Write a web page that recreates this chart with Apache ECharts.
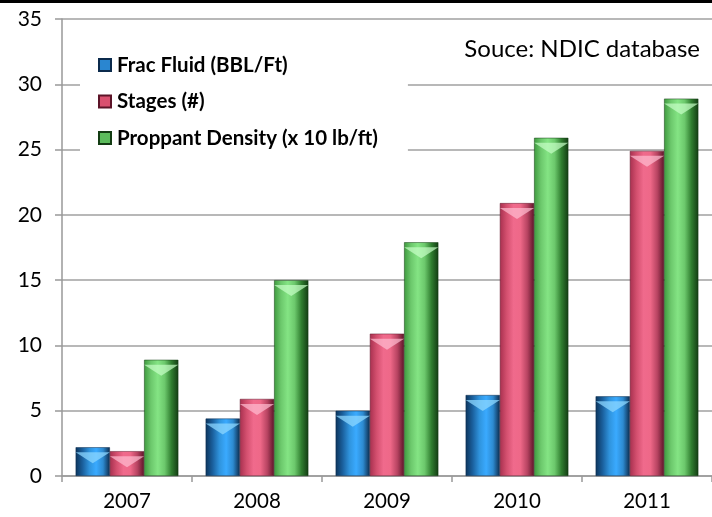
<!DOCTYPE html>
<html>
<head>
<meta charset="utf-8">
<script src="https://cdn.jsdelivr.net/npm/echarts@6/dist/echarts.min.js"></script>
<style>
  html, body { margin: 0; padding: 0; background: #fff; }
  #main { width: 712px; height: 517px; }
</style>
</head>
<body>
<div id="main"></div>
<script>
// data
var years = ['2007', '2008', '2009', '2010', '2011'];
var fracFluid = [2.2, 4.4, 5.0, 6.2, 6.1];
var stages = [1.9, 5.9, 10.9, 20.9, 24.9];
var proppant = [8.9, 15.0, 17.9, 25.9, 28.9];
var yTicks = [0, 5, 10, 15, 20, 25, 30, 35];
var names = ['Frac Fluid (BBL/Ft)', 'Stages (#)', 'Proppant Density (x 10 lb/ft)'];

var font = 'Lato';

// horizontal gradient to fake the rounded excel bars
function barFill(stops) {
  return new echarts.graphic.LinearGradient(0, 0, 1, 0, stops.map(function (c, i) {
    return { offset: i / (stops.length - 1), color: c };
  }));
}
var blueFill = barFill(['#0c355c', '#1a5f9c', '#2f93dc', '#3aaaff', '#2d8ad0', '#0b2a4c']);
var pinkFill = barFill(['#a8304f', '#d4506f', '#f06a8c', '#ee6888', '#b84462', '#5c1428']);
var greenFill = barFill(['#3e9a3e', '#6cc86c', '#84e484', '#6cc86c', '#2f7d2f', '#133c13']);

// bevel highlight on top of each bar
function bevel(name, data, color) {
  return {
    name: name + ' top', type: 'pictorialBar', data: data,
    barGap: '0%', barCategoryGap: '21%',
    symbol: 'path://M0,0 L10,0 L5,4 Z',
    symbolSize: ['100%', 11],
    symbolPosition: 'end',
    symbolOffset: [0, '45%'],
    itemStyle: { color: color },
    z: 3, silent: true
  };
}

var myChart = echarts.init(document.getElementById('main'));
myChart.setOption({
  animation: false,
  textStyle: { fontFamily: font },
  grid: { left: 62, right: -8, top: 19, bottom: 41, containLabel: false },
  legend: {
    orient: 'vertical',
    left: 80,
    top: 46,
    padding: [8, 30, 8, 18],
    backgroundColor: '#fff',
    icon: 'rect',
    itemWidth: 12,
    itemHeight: 12,
    itemGap: 14.5,
    textStyle: { fontFamily: font, fontSize: 20.5, lineHeight: 22, fontWeight: 'bold', color: '#000', padding: [0, 0, 0, 1] },
    data: [
      { name: names[0], itemStyle: { color: '#2a86d0' } },
      { name: names[1], itemStyle: { color: '#d9506f' } },
      { name: names[2], itemStyle: { color: '#5cbc5c' } }
    ]
  },
  graphic: [
    { type: 'rect', left: 0, top: 0, shape: { width: 712, height: 3 }, style: { fill: '#000' }, z: 100 },
    { type: 'text', right: 12, top: 37, style: { text: 'Souce: NDIC database', font: '24px ' + font, fill: '#000' }, z: 100 }
  ],
  xAxis: {
    type: 'category',
    data: years,
    axisLine: { lineStyle: { color: '#999', width: 1.5 } },
    axisTick: { show: true, length: 6, lineStyle: { color: '#999', width: 1.5 } },
    axisLabel: { color: '#000', fontSize: 20.5, margin: 15, fontFamily: font }
  },
  yAxis: {
    type: 'value',
    min: yTicks[0],
    max: yTicks[yTicks.length - 1],
    interval: 5,
    axisLine: { show: true, lineStyle: { color: '#999', width: 1.5 } },
    axisTick: { show: true, length: 7, lineStyle: { color: '#999', width: 1.5 } },
    axisLabel: { color: '#000', fontSize: 21, margin: 20, fontFamily: font },
    splitLine: { show: true, lineStyle: { color: '#a0a0a0', width: 1.5 } }
  },
  series: [
    { name: names[0], type: 'bar', data: fracFluid, barGap: '0%', barCategoryGap: '21%',
      itemStyle: { color: blueFill, borderColor: '#0b2a4c', borderWidth: 0.5 } },
    { name: names[1], type: 'bar', data: stages,
      itemStyle: { color: pinkFill, borderColor: '#5c1428', borderWidth: 0.5 } },
    { name: names[2], type: 'bar', data: proppant,
      itemStyle: { color: greenFill, borderColor: '#133c13', borderWidth: 0.5 } },
    bevel(names[0], fracFluid, 'rgba(140,215,255,0.75)'),
    bevel(names[1], stages, 'rgba(255,190,210,0.7)'),
    bevel(names[2], proppant, 'rgba(200,255,200,0.7)')
  ]
});
</script>
</body>
</html>
